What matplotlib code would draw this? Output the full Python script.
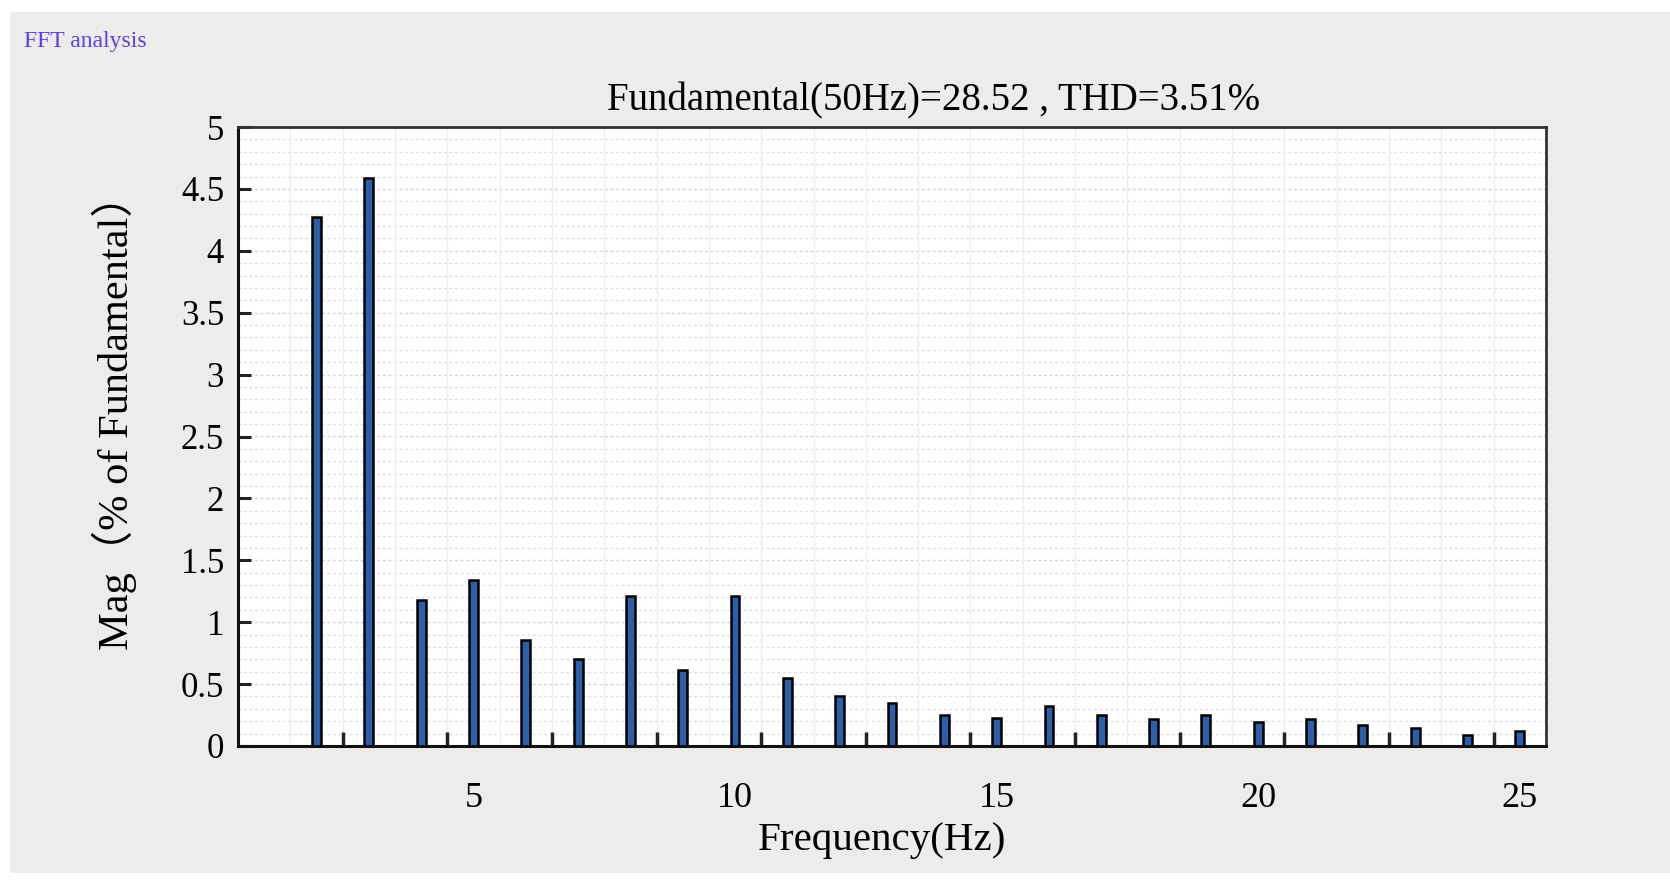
import numpy as np
import matplotlib.pyplot as plt
from matplotlib.patches import Rectangle

# harmonic order and magnitude (% of fundamental)
harmonics = np.arange(2, 26)
mag = [4.27, 4.59, 1.18, 1.34, 0.86, 0.70, 1.21, 0.61, 1.21, 0.55,
       0.40, 0.35, 0.25, 0.23, 0.32, 0.25, 0.22, 0.25, 0.19, 0.22,
       0.17, 0.145, 0.09, 0.12]

title = "Fundamental(50Hz)=28.52 , THD=3.51%"
xticks = [5, 10, 15, 20, 25]
yticks = np.arange(0, 5.01, 0.5)
ytick_labels = ["0", "0.5", "1", "1.5", "2", "2.5", "3", "3.5", "4", "4.5", "5"]

serif = ['Liberation Serif', 'Noto Sans CJK SC', 'DejaVu Serif']
plt.rcParams['font.family'] = serif

fig = plt.figure(figsize=(16.7, 8.9), dpi=100, facecolor='white')
# grey panel behind everything
fig.patches.append(Rectangle((10 / 1670, 17 / 890), 1660 / 1670, 861 / 890,
                             transform=fig.transFigure, facecolor='#edecea',
                             edgecolor='none', zorder=-10))
fig.text(24 / 1670, 1 - 42 / 890, "FFT analysis", color='#5a40ee',
         fontsize=17, va='center', ha='left')

ax = fig.add_axes([238 / 1670, 144 / 890, 1308 / 1670, 619 / 890])
ax.set_facecolor('white')

# faint grid
for yv in np.arange(0.1, 5.0, 0.1):
    major = abs(yv / 0.5 - round(yv / 0.5)) < 1e-6
    ax.axhline(yv, color='#d4d4d4' if major else '#e0e0e0',
               lw=1.0, ls=(0, (2, 2)), zorder=0)
for xv in np.arange(1.5, 25.0, 1.0):
    ax.axvline(xv, color='#eeeeee', lw=1.0, zorder=0)

ax.bar(harmonics, mag, width=0.17, color='#2d5ea8', edgecolor='black',
       linewidth=1.8, zorder=3)

ax.set_xlim(0.5, 25.5)
ax.set_ylim(0, 5)

ax.set_xticks(xticks)
ax.set_xticklabels([str(t) for t in xticks])
ax.set_xticks(np.arange(2.5, 25, 2), minor=True)
ax.tick_params(axis='x', which='major', length=0, pad=26, labelsize=26)
ax.tick_params(axis='x', which='minor', direction='in', length=10, width=2.5,
               color='#222222')
ax.set_yticks(yticks)
ax.set_yticklabels(ytick_labels)
ax.tick_params(axis='y', which='major', direction='in', length=9, width=2.2,
               pad=10, labelsize=25, color='#222222')

for side in ['left', 'bottom']:
    ax.spines[side].set_linewidth(2.2)
    ax.spines[side].set_color('#111111')
for side in ['top', 'right']:
    ax.spines[side].set_linewidth(2.0)
    ax.spines[side].set_color('#333333')

ax.set_title(title, fontsize=28, x=0.532, pad=12)
ax.set_xlabel("Frequency(Hz)", fontsize=29.5)
ax.xaxis.set_label_coords(0.492, -0.122)
ax.xaxis.label.set_va('top')
ax.set_ylabel("Mag（% of Fundamental）", fontsize=30.5)
ax.yaxis.set_label_coords(-0.077, 0.54)

fig.savefig("out.png", dpi=100, facecolor=fig.get_facecolor())
